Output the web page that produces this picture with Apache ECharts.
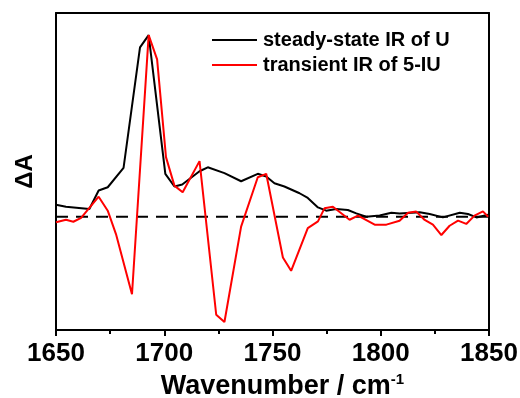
<!DOCTYPE html>
<html>
<head>
<meta charset="utf-8">
<script src="https://cdn.jsdelivr.net/npm/echarts@6/dist/echarts.min.js"></script>
<style>
  html, body { margin: 0; padding: 0; background: #fff; }
</style>
</head>
<body>
<div id="container" style="width:520px; height:398px"></div>
<script>
// wavenumber (cm-1) and normalised dA
var steadyX = [1650, 1654.6, 1665.4, 1669.7, 1673.9, 1681.2, 1688.8, 1692.8, 1700.5, 1704.7, 1708.3, 1716.3, 1720.1, 1727.8, 1735.5, 1743.2, 1747.1, 1750.9, 1755.5, 1762.5, 1766.3, 1771, 1774.8, 1779.4, 1784.8, 1788.7, 1793.3, 1799.5, 1804.9, 1808.7, 1818, 1822.6, 1828.7, 1836.5, 1840.3, 1844.2, 1849.6];
var steadyY = [0.066, 0.055, 0.042, 0.144, 0.162, 0.269, 0.932, 1.0, 0.236, 0.166, 0.177, 0.25, 0.272, 0.24, 0.195, 0.236, 0.221, 0.184, 0.166, 0.129, 0.103, 0.051, 0.033, 0.042, 0.037, 0.018, 0, 0.006, 0.022, 0.018, 0.024, 0.015, -0.004, 0.022, 0.015, -0.004, 0.011];

var transX = [1650, 1654.6, 1658, 1661.6, 1669.7, 1673.9, 1677.7, 1685.1, 1692.8, 1696.7, 1700.8, 1704.7, 1708.5, 1716.3, 1724, 1727.8, 1735.5, 1743.2, 1747.1, 1754.8, 1758.6, 1766.3, 1771, 1774, 1777.9, 1785.6, 1789.5, 1797.2, 1802.6, 1808.7, 1812.6, 1816.4, 1820.3, 1824.1, 1828, 1831.8, 1835.7, 1839.5, 1843.3, 1847.2, 1849.6];
var transY = [-0.031, -0.017, -0.028, -0.007, 0.11, 0.033, -0.096, -0.427, 1.0, 0.866, 0.328, 0.171, 0.134, 0.306, -0.54, -0.58, -0.055, 0.217, 0.236, -0.225, -0.298, -0.063, -0.026, 0.046, 0.055, -0.017, 0.006, -0.044, -0.044, -0.022, 0.022, 0.028, -0.018, -0.044, -0.101, -0.05, -0.022, -0.04, 0.006, 0.029, 0];

var baseX = [1650, 1850];
var baseY = [0, 0];

var seriesNames = ["steady-state IR of U", "transient IR of 5-IU"];

function pairs(xs, ys) {
  return xs.map(function (x, i) { return [x, ys[i]]; });
}

var fontFam = 'Arial, "Liberation Sans", sans-serif';
var frameLine = { color: "#000", width: 2 };

var option = {
  backgroundColor: "#fff",
  animation: false,
  grid: { left: 56, right: 31, top: 13, bottom: 68, containLabel: false, outerBoundsMode: "none" },
  legend: {
    orient: "vertical",
    left: 207,
    top: 25,
    itemWidth: 45,
    itemHeight: 2,
    itemGap: 5,
    icon: "rect",
    data: seriesNames,
    textStyle: { fontFamily: fontFam, fontWeight: "bold", fontSize: 20, color: "#000", lineHeight: 20, padding: [0, 0, 0, 1] }
  },
  xAxis: [
    {
      type: "value",
      min: 1650,
      max: 1850,
      interval: 50,
      name: "Wavenumber / cm{sup|-1}",
      nameLocation: "middle",
      nameGap: 40,
      nameTextStyle: {
        fontFamily: fontFam, fontWeight: "bold", fontSize: 27, color: "#000",
        padding: [0, 0, 0, 20],
        rich: { sup: { fontFamily: fontFam, fontWeight: "bold", fontSize: 15, color: "#000", verticalAlign: "top", padding: [0, 0, 14, 0] } }
      },
      axisLine: { show: true, onZero: false, lineStyle: frameLine },
      axisTick: { show: true, inside: false, length: 6, lineStyle: { width: 2, color: "#000" } },
      minorTick: { show: true, splitNumber: 2, length: 4, lineStyle: { width: 2, color: "#000" } },
      axisLabel: {
        margin: 11, fontFamily: fontFam, fontWeight: "bold", fontSize: 26, color: "#000",
        formatter: function (v) { return String(v); }
      },
      splitLine: { show: false }
    },
    {
      type: "value",
      position: "top",
      min: 1650,
      max: 1850,
      axisLine: { show: true, onZero: false, lineStyle: frameLine },
      axisTick: { show: false },
      axisLabel: { show: false },
      splitLine: { show: false }
    }
  ],
  yAxis: [
    {
      type: "value",
      min: -0.624,
      max: 1.1215,
      name: "ΔA",
      nameLocation: "middle",
      nameGap: 19,
      nameRotate: 90,
      nameTextStyle: { fontFamily: fontFam, fontWeight: "bold", fontSize: 24, color: "#000" },
      axisLine: { show: true, onZero: false, lineStyle: frameLine },
      axisTick: { show: false },
      axisLabel: { show: false },
      splitLine: { show: false }
    },
    {
      type: "value",
      position: "right",
      min: -0.624,
      max: 1.1215,
      axisLine: { show: true, onZero: false, lineStyle: frameLine },
      axisTick: { show: false },
      axisLabel: { show: false },
      splitLine: { show: false }
    }
  ],
  series: [
    {
      name: "baseline",
      type: "line",
      data: pairs(baseX, baseY),
      showSymbol: false,
      lineStyle: { color: "#000", width: 2, type: [12, 8] },
      z: 1
    },
    {
      name: seriesNames[0],
      type: "line",
      data: pairs(steadyX, steadyY),
      showSymbol: false,
      color: "#000",
      lineStyle: { color: "#000", width: 2 },
      z: 2
    },
    {
      name: seriesNames[1],
      type: "line",
      data: pairs(transX, transY),
      showSymbol: false,
      color: "#ff0000",
      lineStyle: { color: "#ff0000", width: 2 },
      z: 3
    }
  ]
};

var dom = document.getElementById("container");
var myChart = echarts.init(dom);
myChart.setOption(option, true);
</script>
</body>
</html>
